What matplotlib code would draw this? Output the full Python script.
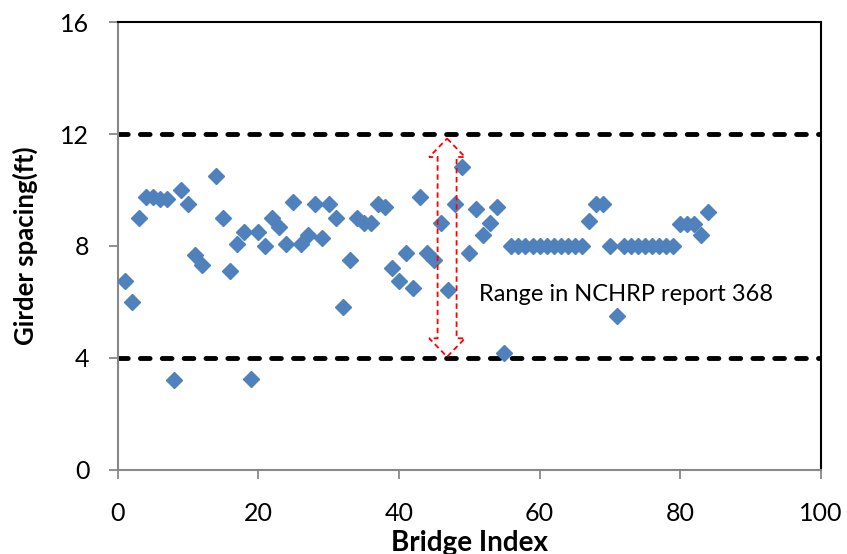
import matplotlib
matplotlib.use("Agg")
import matplotlib.pyplot as plt
from matplotlib.patches import Polygon

plt.rcParams['font.family'] = ['Lato', 'DejaVu Sans']

bridge_index = [1, 2, 3, 4, 5, 6, 7, 8, 9, 10, 11, 12, 14, 15, 16, 17, 18, 19, 20,
                21, 22, 23, 24, 25, 26, 27, 28, 29, 30, 31, 32, 33, 34, 35, 36, 37,
                38, 39, 40, 41, 42, 43, 44, 45, 46, 47, 48, 49, 50, 51, 52, 53, 54,
                55, 56, 57, 58, 59, 60, 61, 62, 63, 64, 65, 66, 67, 68, 69, 70, 71,
                72, 73, 74, 75, 76, 77, 78, 79, 80, 81, 82, 83, 84]
girder_spacing = [6.75, 6.0, 9.0, 9.75, 9.75, 9.67, 9.67, 3.2, 10.0, 9.5, 7.67, 7.33,
                  10.5, 9.0, 7.1, 8.08, 8.5, 3.25, 8.5, 8.0, 9.0, 8.67, 8.08, 9.58,
                  8.08, 8.4, 9.5, 8.3, 9.5, 9.0, 5.83, 7.5, 9.0, 8.83, 8.83, 9.5,
                  9.4, 7.2, 6.75, 7.75, 6.5, 9.75, 7.75, 7.5, 8.83, 6.42, 9.5, 10.83,
                  7.75, 9.33, 8.4, 8.83, 9.4, 4.17, 8.0, 8.0, 8.0, 8.0, 8.0, 8.0,
                  8.0, 8.0, 8.0, 8.0, 8.0, 8.9, 9.5, 9.5, 8.0, 5.5, 8.0, 8.0, 8.0,
                  8.0, 8.0, 8.0, 8.0, 8.0, 8.8, 8.8, 8.8, 8.4, 9.2]
range_limits = [4, 12]
x_ticks = [0, 20, 40, 60, 80, 100]
y_ticks = [0, 4, 8, 12, 16]

fig = plt.figure(figsize=(8.47, 5.54), dpi=100)
ax = fig.add_axes([0.139, 0.152, 0.830, 0.808])

for lim in range_limits:
    ax.axhline(lim, color='black', lw=3.5, ls=(0, (2.0, 2.5)),
               dash_capstyle='round', zorder=2)

ax.plot(bridge_index, girder_spacing, ls='none', marker='D', ms=8.6,
        color='#4F81BD', mec='#4F81BD', zorder=3)

# double-headed outline arrow (dashed red)
cx, sw, hw = 46.85, 1.35, 2.55
top, bot, hl = 11.84, 4.04, 0.66
arrow = Polygon([(cx, top), (cx + hw, top - hl), (cx + sw, top - hl),
                 (cx + sw, bot + hl), (cx + hw, bot + hl), (cx, bot),
                 (cx - hw, bot + hl), (cx - sw, bot + hl), (cx - sw, top - hl),
                 (cx - hw, top - hl)], closed=True, fill=False,
                edgecolor='#FF0000', lw=1.3, ls=(0, (3, 2)), zorder=4)
ax.add_patch(arrow)

ax.text(51.4, 6.25, 'Range in NCHRP report 368', fontsize=17, va='center',
        ha='left', color='black', zorder=5)

ax.set_xlim(0, 100)
ax.set_ylim(0, 16)
ax.set_xticks(x_ticks)
ax.set_yticks(y_ticks)
ax.tick_params(axis='both', direction='out', length=6.5, width=1.3,
               color='#888888', labelsize=18)
ax.tick_params(axis='y', pad=14)
ax.tick_params(axis='x', pad=17)

for s in ['left', 'bottom']:
    ax.spines[s].set_color('#888888')
    ax.spines[s].set_linewidth(1.5)
for s in ['top', 'right']:
    ax.spines[s].set_color('black')
    ax.spines[s].set_linewidth(1.5)

ax.set_xlabel('Bridge Index', fontsize=20, fontweight='bold')
ax.set_ylabel('Girder spacing(ft)', fontsize=18.5, fontweight='bold')
ax.xaxis.set_label_coords(0.5, -0.135)
ax.yaxis.set_label_coords(-0.113, 0.5)

fig.savefig('out.png', dpi=100)
